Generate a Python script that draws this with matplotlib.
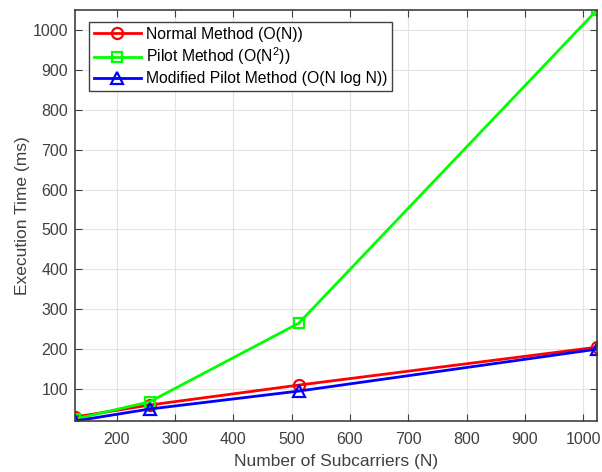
import matplotlib
matplotlib.use("Agg")
import matplotlib.pyplot as plt

plt.rcParams['font.family'] = ['Liberation Sans', 'DejaVu Sans']
plt.rcParams['mathtext.fontset'] = 'custom'
plt.rcParams['mathtext.rm'] = 'Liberation Sans'

N = [128, 256, 512, 1024]
normal = [30, 60, 110, 205]
pilot = [25, 68, 265, 1050]
modified = [20, 50, 95, 200]
labels = ['Normal Method (O(N))', 'Pilot Method (O(N$^2$))', 'Modified Pilot Method (O(N log N))']

fig = plt.figure(figsize=(6.02, 4.72), dpi=100)
ax = fig.add_axes([75/602, 51/472, 522/602, 411/472])

ax.plot(N, normal, color='#ff0000', marker='o', mfc='none', mew=1.6, ms=8, lw=2, label=labels[0])
ax.plot(N, pilot, color='#00ff00', marker='s', mfc='none', mew=1.6, ms=7, lw=2, label=labels[1])
ax.plot(N, modified, color='#0000ff', marker='^', mfc='none', mew=1.6, ms=8, lw=2, label=labels[2])

ax.set_xlim(128, 1024)
ax.set_ylim(20, 1050)
ax.set_xticks(range(200, 1001, 100))
ax.set_yticks(range(100, 1001, 100))
ax.grid(True, color='#e3e3e3', lw=0.8)
ax.set_axisbelow(True)
ax.tick_params(direction='in', top=True, right=True, labelsize=11.5, colors='#404040', length=5, pad=5)
ax.tick_params(axis='x', pad=8)
for s in ax.spines.values():
    s.set_color('#404040')
    s.set_linewidth(1.2)
ax.set_xlabel('Number of Subcarriers (N)', fontsize=12.5, color='#404040', labelpad=5)
ax.set_ylabel('Execution Time (ms)', fontsize=12.5, color='#404040', labelpad=2)

leg = ax.legend(loc='upper left', bbox_to_anchor=(0.012, 0.99), fontsize=11.3, fancybox=False,
                edgecolor='#404040', framealpha=1, handlelength=3, borderpad=0.3, labelspacing=0.25,
                handletextpad=0.3)
leg.get_frame().set_linewidth(1.0)

fig.savefig('out.png', dpi=100)
